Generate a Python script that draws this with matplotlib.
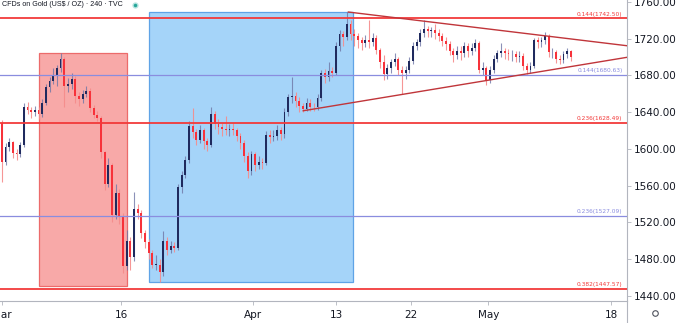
import matplotlib
matplotlib.use("Agg")
import matplotlib.pyplot as plt
import numpy as np

# 8h candles, Gold CFD
first_open = 1628
closes = [1586, 1602, 1607, 1595, 1594, 1604, 1646, 1642, 1640, 1642,
          1638, 1650, 1667, 1674, 1680, 1688, 1698, 1668, 1670, 1676,
          1657, 1654, 1660, 1663, 1644, 1637, 1634, 1596, 1562, 1582,
          1528, 1552, 1526, 1472, 1500, 1482, 1534, 1530, 1508, 1498,
          1486, 1474, 1474, 1466, 1500, 1490, 1494, 1492, 1558, 1572,
          1588, 1625, 1618, 1610, 1620, 1608, 1604, 1638, 1627, 1624,
          1622, 1620, 1622, 1620, 1614, 1606, 1592, 1576, 1594, 1582,
          1586, 1584, 1615, 1613, 1614, 1620, 1616, 1640, 1656, 1658,
          1652, 1647, 1643, 1650, 1646, 1645, 1655, 1682, 1678, 1685,
          1683, 1712, 1725, 1722, 1736, 1725, 1723, 1718, 1715, 1718,
          1716, 1721, 1708, 1694, 1681, 1688, 1694, 1698, 1686, 1682,
          1686, 1696, 1712, 1716, 1726, 1730, 1728, 1729, 1726, 1723,
          1717, 1714, 1707, 1702, 1706, 1704, 1712, 1707, 1710, 1715,
          1686, 1688, 1675, 1686, 1698, 1704, 1706, 1704, 1703, 1703,
          1700, 1701, 1690, 1686, 1690, 1718, 1716, 1718, 1723, 1705,
          1705, 1698, 1697, 1703, 1706, 1700]
highs = [1631, 1606, 1612, 1609, 1600, 1607, 1650, 1651, 1646, 1647,
         1645, 1654, 1670, 1678, 1688, 1691, 1704, 1700, 1677, 1682,
         1679, 1662, 1664, 1668, 1666, 1648, 1641, 1636, 1598, 1590,
         1585, 1562, 1556, 1530, 1512, 1504, 1553, 1540, 1533, 1512,
         1502, 1490, 1484, 1480, 1510, 1504, 1500, 1498, 1562, 1576,
         1592, 1630, 1644, 1622, 1626, 1623, 1612, 1646, 1641, 1632,
         1628, 1636, 1627, 1628, 1623, 1617, 1610, 1596, 1598, 1597,
         1592, 1590, 1619, 1620, 1621, 1626, 1624, 1644, 1660, 1678,
         1662, 1656, 1650, 1655, 1654, 1650, 1660, 1686, 1687, 1695,
         1689, 1716, 1729, 1728, 1749, 1740, 1730, 1726, 1722, 1724,
         1740, 1726, 1724, 1710, 1702, 1692, 1698, 1704, 1700, 1690,
         1690, 1700, 1716, 1720, 1730, 1740, 1734, 1733, 1736, 1730,
         1726, 1722, 1717, 1710, 1712, 1712, 1716, 1715, 1715, 1720,
         1717, 1694, 1690, 1690, 1702, 1708, 1715, 1710, 1709, 1708,
         1706, 1706, 1704, 1693, 1695, 1721, 1722, 1722, 1727, 1725,
         1710, 1708, 1702, 1707, 1710, 1708]
lows = [1564, 1582, 1598, 1590, 1588, 1591, 1602, 1638, 1634, 1636,
        1632, 1635, 1648, 1662, 1670, 1668, 1684, 1645, 1662, 1665,
        1650, 1647, 1650, 1656, 1640, 1634, 1630, 1590, 1555, 1558,
        1520, 1524, 1518, 1465, 1468, 1468, 1478, 1524, 1503, 1492,
        1480, 1470, 1468, 1455, 1462, 1484, 1486, 1488, 1490, 1552,
        1568, 1585, 1612, 1604, 1606, 1600, 1598, 1602, 1622, 1616,
        1614, 1615, 1614, 1615, 1608, 1600, 1586, 1568, 1572, 1576,
        1578, 1578, 1582, 1606, 1608, 1610, 1610, 1612, 1636, 1650,
        1645, 1640, 1640, 1641, 1641, 1641, 1642, 1652, 1672, 1674,
        1678, 1680, 1706, 1712, 1718, 1718, 1712, 1710, 1708, 1711,
        1710, 1712, 1703, 1688, 1675, 1676, 1682, 1690, 1680, 1660,
        1676, 1682, 1692, 1708, 1712, 1722, 1722, 1722, 1720, 1717,
        1712, 1708, 1702, 1695, 1698, 1697, 1700, 1700, 1702, 1706,
        1682, 1680, 1669, 1672, 1683, 1694, 1700, 1698, 1697, 1696,
        1695, 1695, 1686, 1681, 1683, 1688, 1710, 1711, 1714, 1700,
        1699, 1693, 1692, 1693, 1699, 1696]
opens = [first_open] + closes[:-1]

# fib levels
fib_levels = [1742.50, 1680.63, 1628.49, 1527.09, 1447.57]
fib_labels = ["0.144(1742.50)", "0.144(1680.63)", "0.236(1628.49)",
              "0.236(1527.09)", "0.382(1447.57)"]
fib_colors = ["#f23a3a", "#8a8ddf", "#f23a3a", "#8a8ddf", "#f23a3a"]

# triangle trendlines (bar index, price)
upper_line = ([94.4, 170.3], [1748.9, 1712.2])
lower_line = ([82.1, 170.3], [1641.4, 1699.6])

# shaded boxes (bar range, price range)
red_box = (10.1, 34.1, 1450.9, 1704.6)
blue_box = (40.2, 95.6, 1454.9, 1748.6)

tick_pos = [0, 32.5, 68.4, 91.1, 111.5, 132.5, 166.0]
tick_labels = ["Mar", "16", "Apr", "13", "22", "May", "18"]
y_ticks = [1440, 1480, 1520, 1560, 1600, 1640, 1680, 1720, 1760]

W, H = 680, 323
fig = plt.figure(figsize=(W / 100, H / 100), dpi=100)
ax = fig.add_axes([0, 1 - 300.7 / H, 627 / W, 300.7 / H])

# boxes
x0, x1, y0, y1 = red_box
ax.add_patch(plt.Rectangle((x0, y0), x1 - x0, y1 - y0, facecolor="#f8a9a8",
                           edgecolor="#ec6b6b", lw=0.9, zorder=1))
x0, x1, y0, y1 = blue_box
ax.add_patch(plt.Rectangle((x0, y0), x1 - x0, y1 - y0, facecolor="#a5d4f9",
                           edgecolor="#5fa3e6", lw=0.9, zorder=1))

# candles
idx = np.arange(len(closes))
o = np.array(opens, float)
c = np.array(closes, float)
hi = np.array(highs, float)
lo = np.array(lows, float)
up = c >= o
up_col, dn_col = "#1f2a5e", "#f7323a"
ax.vlines(idx[up], lo[up], hi[up], color="#6f76a6", lw=0.8, alpha=0.8, zorder=2)
ax.vlines(idx[~up], lo[~up], hi[~up], color="#f58b8b", lw=0.8, alpha=0.9, zorder=2)
body_h = np.maximum(np.abs(c - o), 0.6)
ax.bar(idx, body_h, bottom=np.minimum(o, c), width=0.5,
       color=np.where(up, up_col, dn_col), zorder=3, linewidth=0)

# fib lines
for lvl, lab, col in zip(fib_levels, fib_labels, fib_colors):
    lw = 1.3 if col == "#f23a3a" else 0.9
    ax.axhline(lvl, color=col, lw=lw, zorder=4)
    ax.text(0.993, lvl + 1.5, lab, transform=ax.get_yaxis_transform(),
            ha="right", va="bottom", fontsize=4.2, color=col, zorder=5)

# triangle
ax.plot(*upper_line, color="#c0353a", lw=1.0, zorder=4)
ax.plot(*lower_line, color="#c0353a", lw=1.0, zorder=4)

ax.set_xlim(-0.5, 170.3)
ax.set_ylim(1434.6, 1762.0)

for s in ["top", "left"]:
    ax.spines[s].set_visible(False)
ax.spines["right"].set_color("#b2b5be")
ax.spines["bottom"].set_color("#b2b5be")
ax.spines["right"].set_linewidth(0.8)
ax.spines["bottom"].set_linewidth(0.8)
ax.yaxis.tick_right()
ax.set_yticks(y_ticks)
ax.set_yticklabels([f"{v:.2f}" for v in y_ticks])
ax.set_xticks(tick_pos)
ax.set_xticklabels(tick_labels)
ax.tick_params(axis="y", length=3, width=0.6, color="#b2b5be",
               labelsize=7.5, labelcolor="#131722", pad=2)
ax.tick_params(axis="x", length=3, width=0.6, color="#b2b5be",
               labelsize=7.5, labelcolor="#131722", pad=4)

# right axis continues down through the time scale
fig.add_artist(plt.Line2D([627 / W, 627 / W], [0, 1 - 300.7 / H],
                          color="#b2b5be", lw=0.8))

fig.text(2 / W, 1 - 1 / H, "CFDs on Gold (US$ / OZ) · 240 · TVC",
         fontsize=5.1, family="Liberation Sans", color="#131722",
         ha="left", va="top")
fig.add_artist(plt.Line2D([135 / W], [1 - 5 / H], marker="o", markersize=4.5,
                          color="#b7e4df", markeredgewidth=0))
fig.add_artist(plt.Line2D([135 / W], [1 - 5 / H], marker="o", markersize=2.5,
                          color="#26a69a", markeredgewidth=0))
fig.add_artist(plt.Line2D([655 / W], [1 - 313 / H], marker="o", markersize=4,
                          markerfacecolor="white", markeredgecolor="#50535e",
                          markeredgewidth=0.8))

fig.savefig("out.png", dpi=100)
